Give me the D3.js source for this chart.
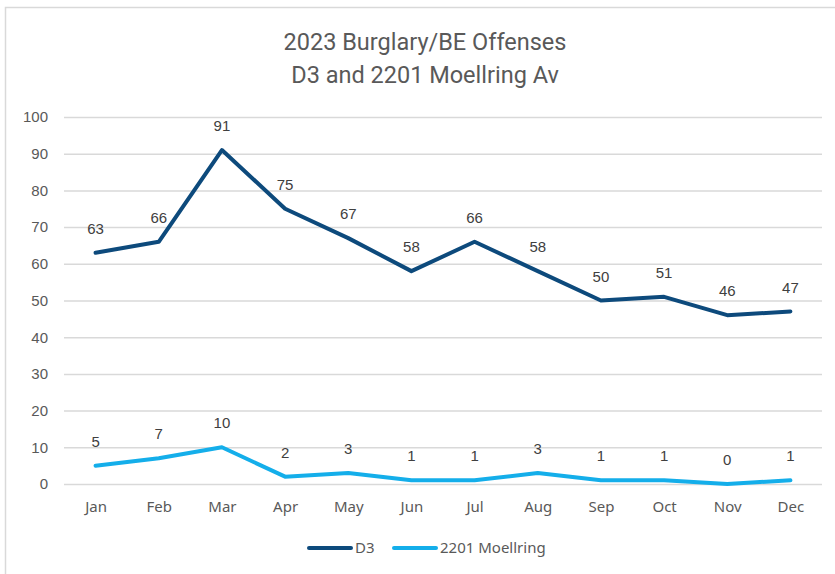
<!DOCTYPE html>
<html>
<head>
<meta charset="utf-8">
<script src="https://cdn.jsdelivr.net/npm/d3@7"></script>
<style>
  body { margin: 0; background: #fff; }
  svg { display: block; font-family: "Liberation Sans", Arial, sans-serif; }
</style>
</head>
<body>
<div id="chart"></div>
<script>
// chart data
var months = ["Jan", "Feb", "Mar", "Apr", "May", "Jun", "Jul", "Aug", "Sep", "Oct", "Nov", "Dec"];
var d3Values = [63, 66, 91, 75, 67, 58, 66, 58, 50, 51, 46, 47];
var moellringValues = [5, 7, 10, 2, 3, 1, 1, 3, 1, 1, 0, 1];
var yTicks = [0, 10, 20, 30, 40, 50, 60, 70, 80, 90, 100];
var titleLines = ["2023 Burglary/BE Offenses", "D3 and 2201 Moellring Av"];

var series = [
    {name: "D3", values: d3Values, color: "#0d4a7c"},
    {name: "2201 Moellring", values: moellringValues, color: "#14aeea"}
];

// init size
var width = 835;
var height = 574;
var plotLeft = 64, plotRight = 822, plotTop = 117, plotBottom = 484;

var svg = d3.select("#chart")
    .append("svg")
    .attr("width", width)
    .attr("height", height);

// chart border
svg.append("rect")
    .attr("x", 5.5)
    .attr("y", 7.5)
    .attr("width", width + 10)
    .attr("height", height + 10)
    .attr("fill", "#fff")
    .attr("stroke", "#d9d9d9")
    .attr("stroke-width", 1.5);

// init scales
var x = d3.scalePoint()
    .domain(months)
    .range([plotLeft, plotRight])
    .padding(0.5);

var y = d3.scaleLinear()
    .domain([0, 100])
    .range([plotBottom, plotTop]);

// title
svg.append("g")
    .selectAll("text")
    .data(titleLines)
    .enter().append("text")
    .attr("x", 425)
    .attr("y", (d, i) => 50 + i * 33)
    .attr("text-anchor", "middle")
    .attr("font-family", "Roboto, sans-serif")
    .attr("font-size", 23.5)
    .attr("fill", "#595959")
    .text(d => d);

// y axis with gridlines
var yAxis = svg.append("g")
    .attr("transform", "translate(" + plotLeft + ",0)")
    .call(d3.axisLeft(y).tickValues(yTicks).tickSize(-(plotRight - plotLeft)).tickPadding(16));

yAxis.select(".domain").remove();
yAxis.selectAll(".tick line").attr("stroke", "#d9d9d9").attr("stroke-width", 1.5);
yAxis.selectAll(".tick text")
    .attr("font-size", 15)
    .attr("fill", "#595959")
    .attr("font-family", "'Liberation Sans', Arial, sans-serif");

// x axis
var xAxis = svg.append("g")
    .attr("transform", "translate(0," + plotBottom + ")")
    .call(d3.axisBottom(x).tickSize(0).tickPadding(17));

xAxis.select(".domain").remove();
xAxis.selectAll(".tick text")
    .attr("font-size", 15)
    .attr("fill", "#595959")
    .attr("font-family", "'Noto Sans', sans-serif");

// lines
var line = d3.line()
    .x((d, i) => x(months[i]))
    .y(d => y(d));

var lines = svg.append("g").attr("class", "lines");

lines.selectAll("path")
    .data(series)
    .enter().append("path")
    .attr("fill", "none")
    .attr("stroke", d => d.color)
    .attr("stroke-width", 4)
    .attr("stroke-linejoin", "round")
    .attr("stroke-linecap", "round")
    .attr("d", d => line(d.values));

// data labels
series.forEach(function(s) {
    svg.append("g")
        .selectAll("text")
        .data(s.values)
        .enter().append("text")
        .attr("x", (d, i) => x(months[i]))
        .attr("y", d => y(d) - 19)
        .attr("text-anchor", "middle")
        .attr("font-size", 15)
        .attr("fill", "#404040")
        .text(d => d);
});

// legend
var legendItems = [
    {x: 309, name: "D3"},
    {x: 394, name: "2201 Moellring"}
];

var legend = svg.append("g")
    .selectAll("g")
    .data(series)
    .enter().append("g")
    .attr("transform", (d, i) => "translate(" + legendItems[i].x + ",548)");

legend.append("line")
    .attr("x1", 0)
    .attr("x2", 42)
    .attr("stroke", d => d.color)
    .attr("stroke-width", 4)
    .attr("stroke-linecap", "round");

legend.append("text")
    .attr("x", 46)
    .attr("y", 5)
    .attr("font-size", 15)
    .attr("font-family", "'Noto Sans', sans-serif")
    .attr("fill", "#595959")
    .text(d => d.name);
</script>
</body>
</html>
